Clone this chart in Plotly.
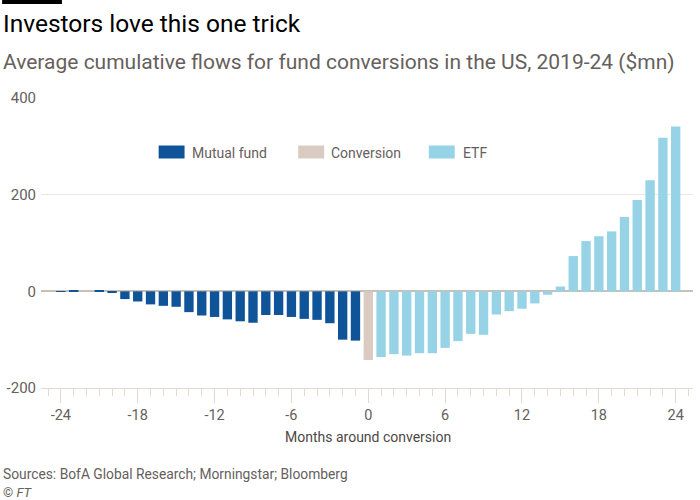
import plotly.graph_objects as go

months = list(range(-24, 25))
flows = [0.5, 1, 0, 2, -3, -16, -21, -27, -30, -32, -43, -50,
         -53, -58, -62, -65, -49, -49, -53, -57, -59, -66, -100, -102,
         -142,
         -136, -130, -133, -128, -128, -117, -103, -88, -90, -48, -41, -36,
         -25, -7, 10, 73, 104, 114, 124, 154, 189, 230, 318, 341]
phase_names = ["Mutual fund", "Conversion", "ETF"]
y_ticks = [-200, 0, 200, 400]
x_ticks = [-24, -18, -12, -6, 0, 6, 12, 18, 24]

colors = {"Mutual fund": "#0f5499", "Conversion": "#d9cbc1", "ETF": "#96d3e6"}

def phase(m):
    if m < 0:
        return "Mutual fund"
    if m == 0:
        return "Conversion"
    return "ETF"

FONT = "Roboto"
L, R, T, B = 39, 7, 98, 112
W = 700 - L - R
H = 500 - T - B

def px(x):
    return (x - L) / W

def py(y):
    return (T + H - y) / H

fig = go.Figure()
for name in phase_names:
    xs = [m for m in months if phase(m) == name]
    ys = [v for m, v in zip(months, flows) if phase(m) == name]
    fig.add_trace(go.Bar(x=xs, y=ys, name=name, marker=dict(color=colors[name], line=dict(width=0)),
                         showlegend=False, hoverinfo="skip"))

shapes = [dict(type="rect", xref="paper", yref="paper", x0=px(0), x1=px(60), y0=py(0), y1=py(4),
               fillcolor="#000000", line=dict(width=0), layer="above")]
annotations = []
legend_items = [("Mutual fund", 157, 188), ("Conversion", 297, 328), ("ETF", 428, 460)]
for name, sx, tx in legend_items:
    shapes.append(dict(type="rect", xref="paper", yref="paper", x0=px(sx), x1=px(sx + 26),
                       y0=py(158.5), y1=py(145.5), fillcolor=colors[name], line=dict(width=0)))
    annotations.append(dict(xref="paper", yref="paper", x=px(tx), y=py(152.5), text=name,
                            showarrow=False, xanchor="left", yanchor="middle",
                            font=dict(family=FONT, size=14, color="#66605c")))

annotations += [
    dict(xref="paper", yref="paper", x=px(-1), y=py(24), text="Investors love this one trick",
         showarrow=False, xanchor="left", yanchor="middle", font=dict(family=FONT, size=24.5, color="#000000")),
    dict(xref="paper", yref="paper", x=px(-1), y=py(62), text="Average cumulative flows for fund conversions in the US, 2019-24 ($mn)",
         showarrow=False, xanchor="left", yanchor="middle", font=dict(family=FONT, size=21, color="#66605c")),
    dict(xref="paper", yref="paper", x=px(-1), y=py(474), text="Sources: BofA Global Research; Morningstar; Bloomberg",
         showarrow=False, xanchor="left", yanchor="middle", font=dict(family=FONT, size=13.8, color="#66605c")),
    dict(xref="paper", yref="paper", x=px(-1), y=py(492), text="© <i>FT</i>",
         showarrow=False, xanchor="left", yanchor="middle", font=dict(family=FONT, size=13, color="#66605c")),
    dict(xref="paper", yref="paper", x=px(367), y=py(437), text="Months around conversion",
         showarrow=False, xanchor="center", yanchor="middle", font=dict(family=FONT, size=14, color="#4d4845")),
]

fig.update_layout(
    width=700, height=500,
    margin=dict(l=L, r=R, t=T, b=B),
    paper_bgcolor="#ffffff", plot_bgcolor="#ffffff",
    bargap=0.27,
    hovermode=False,
    shapes=shapes, annotations=annotations,
    font=dict(family=FONT, size=14, color="#66605c"),
    xaxis=dict(range=[-25.55, 25.35], tickvals=x_ticks, ticktext=[str(v) for v in x_ticks],
               ticks="outside", ticklen=14, tickcolor="#e3d8ce", tickwidth=1,
               minor=dict(ticks="outside", ticklen=7, dtick=1, tick0=0, tickcolor="#e3d8ce", tickwidth=1),
               showline=True, linecolor="#e3d8ce", linewidth=1, showgrid=False, zeroline=False,
               tickfont=dict(family=FONT, size=14.5, color="#66605c")),
    yaxis=dict(range=[-200, 400], tickvals=y_ticks, ticktext=[str(v) for v in y_ticks],
               showgrid=True, gridcolor="#efe7e0", gridwidth=1,
               zeroline=True, zerolinecolor="#c9bfb6", zerolinewidth=1.5,
               ticks="", showline=False, ticklabelstandoff=4,
               tickfont=dict(family=FONT, size=15, color="#66605c")),
)

fig.write_html("out.html", config={"displayModeBar": False},
               post_script="document.body.style.margin='0';document.body.style.overflow='hidden';")
